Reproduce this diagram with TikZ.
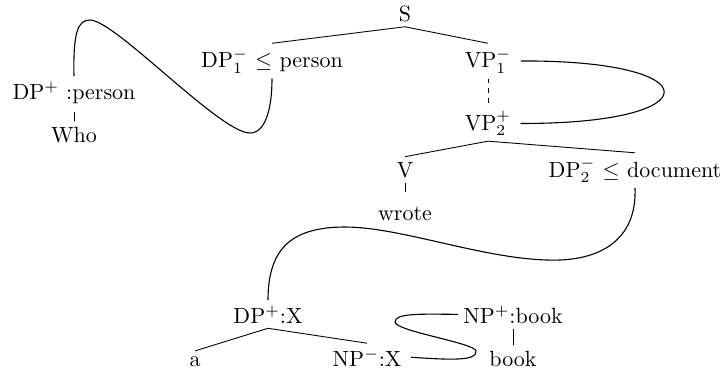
\documentclass[tikz,border=0pt]{standalone}
\begin{document}
\begin{tikzpicture}[x=0.4545pt,y=-0.4545pt,
  lab/.style={inner sep=2.2pt,anchor=base},
  trace/.style={dash pattern=on 2.2pt off 2.2pt},
  shorttrace/.style={dash pattern=on 4.5pt off 3pt},
  link/.style={line width=0.5pt}]
\useasboundingbox (0,0) rectangle (722,370);

% upper tree
\node[lab] (S)     at (405,21)  {S};
\node[lab] (DPa)   at (272,67.5){DP$_1^-$ $\leq$ person};
\node[lab] (VPa)   at (488,67.5){VP$_1^-$};
\node[lab] (VPb)   at (488,130) {VP$_2^+$};
\node[lab] (V)     at (405,177) {V};
\node[lab] (wrote) at (405,220) {wrote};
\node[lab] (DPb)   at (635,177) {DP$_2^-$ $\leq$ document};

% moved wh-phrase
\node[lab] (DPw)   at (74,99)   {DP$^+$ :person};
\node[lab] (who)   at (74,142)  {Who};

% object phrase
\node[lab] (DPx)   at (268,323) {DP$^+$:X};
\node[lab] (art)   at (195,366) {a};
\node[lab] (NPx)   at (367,366) {NP$^-$:X};
\node[lab] (NPb)   at (513,323) {NP$^+$:book};
\node[lab] (book)  at (513,366) {book};

% branches
\draw (S.south) -- (DPa.north);
\draw (S.south) -- (VPa.north);
\draw[trace] (VPa.south) -- (VPb.north);
\draw (VPb.south) -- (V.north);
\draw (VPb.south) -- (DPb.north);
\draw (V.south) -- ([yshift=4pt]wrote.north);
\draw[shorttrace] (who.north) -- (DPw.south);
\draw (DPx.south) -- (art.north);
\draw (DPx.south) -- (NPx.north);
\draw (NPb.south) -- (book.north);

% links between features
\draw[link] (DPw.north) .. controls (73,32) and (78,20) .. (90,20)
  .. controls (115,20) and (220,133) .. (250,133)
  .. controls (265,133) and (272,110) .. (DPa.south);
\draw[link] ([xshift=2pt]VPa.east) .. controls (712,60) and (712,124)
  .. ([xshift=2pt]VPb.east);
\draw[link] (DPb.south) .. controls (637,240) and (600,262) .. (547,260)
  .. controls (480,258) and (400,227) .. (345,227)
  .. controls (290,227) and (268,250) .. (DPx.north);
\draw[link] ([xshift=2pt]NPx.east) .. controls (452,360) and (477,361) .. (476,351)
  .. controls (475,343) and (395,331) .. (395,322)
  .. controls (395,313) and (420,314) .. (NPb.west);
\end{tikzpicture}
\end{document}
